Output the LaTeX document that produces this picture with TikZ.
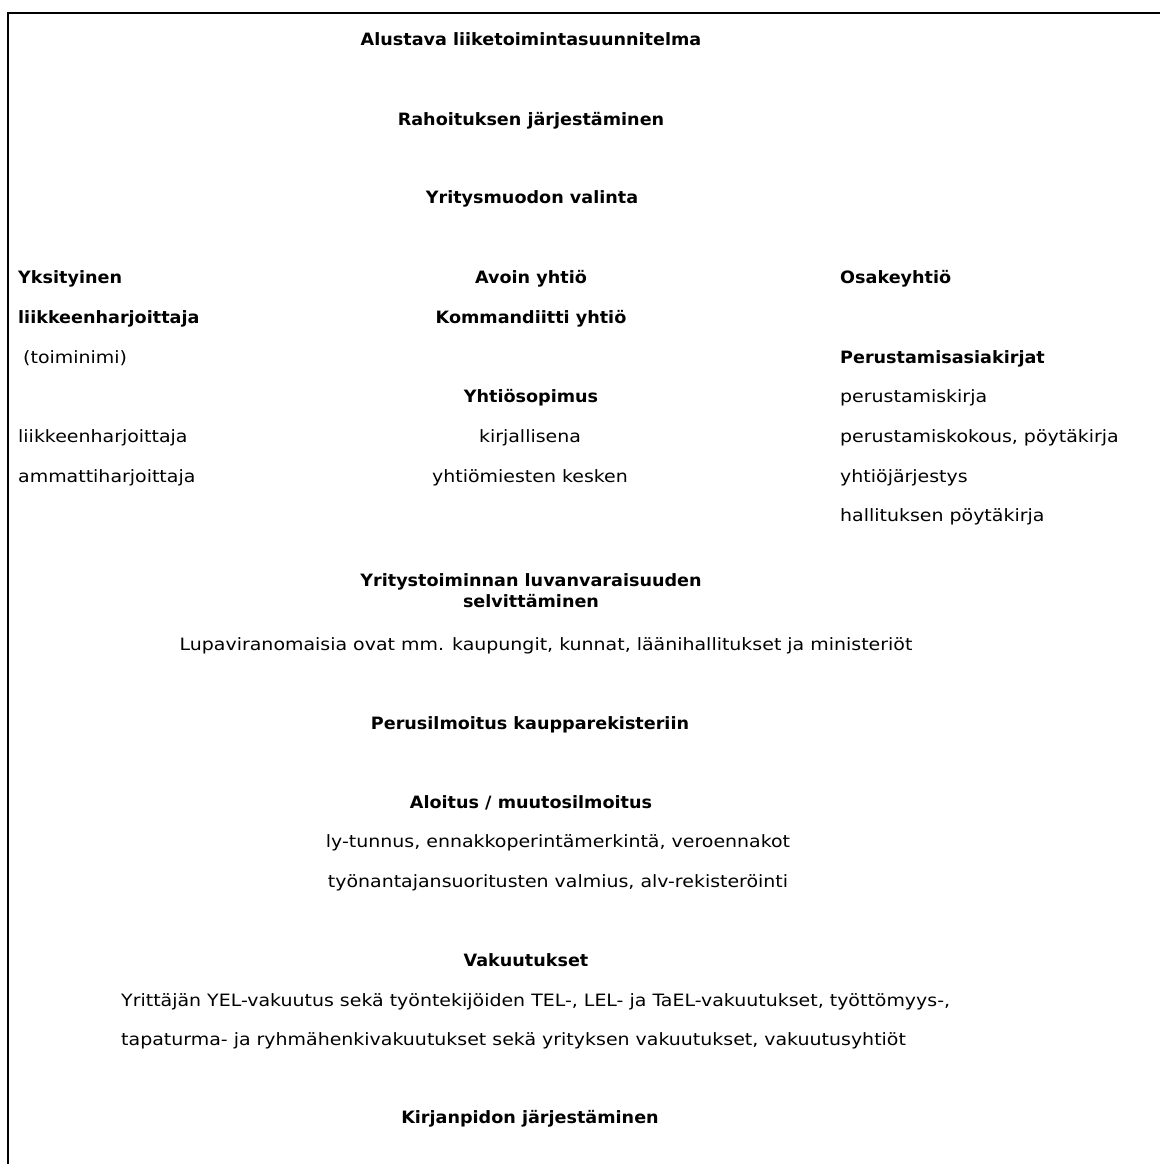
\documentclass[tikz,border=0pt]{standalone}
\usepackage{fontspec}
\setmainfont{DejaVu Sans}[FakeStretch=1.115]
\newfontfamily\headfont{DejaVu Sans}[FakeStretch=1.035]
\usetikzlibrary{positioning}
\newcommand{\fsz}{\fontsize{17}{21}\selectfont}
\tikzset{
  head/.style={font=\fsz\headfont\bfseries, inner sep=0pt, anchor=base},
  txt/.style={font=\fsz, inner sep=0pt, anchor=base},
  headl/.style={head, anchor=base west},
  txtl/.style={txt, anchor=base west},
}

\begin{document}
\begin{tikzpicture}[x=1pt, y=-1pt]
		\useasboundingbox (0,0) rectangle (1160,1164);
		\draw[line width=2pt] (8,1164) -- (8,13) -- (1160,13);
		
		\node[head] (plan) at (531,46) {Alustava liiketoimintasuunnitelma};
		\node[head] (rahoitus) at (531,125) {Rahoituksen järjestäminen};
		\node[head] (muoto) at (532,203) {Yritysmuodon valinta};
		
		% left column
		\node[headl] (tmi1) at (18,283) {Yksityinen};
		\node[headl] (tmi2) at (18,323) {liikkeenharjoittaja};
		\node[txtl] (tmi3) at (23,363) {(toiminimi)};
		\node[txtl] (tmi4) at (18,442) {liikkeenharjoittaja};
		\node[txtl] (tmi5) at (18,482) {ammattiharjoittaja};
		
		% middle column
		\node[head] (ay) at (531,283) {Avoin yhtiö};
		\node[head] (ky) at (531,323) {Kommandiitti yhtiö};
		\node[head] (sopimus) at (531,402) {Yhtiösopimus};
		\node[txt] (sop1) at (530,442) {kirjallisena};
		\node[txt] (sop2) at (530,482) {yhtiömiesten kesken};
		
		% right column
		\node[headl] (oy) at (840,283) {Osakeyhtiö};
		\node[headl] (asiak) at (840,363) {Perustamisasiakirjat};
		\node[txtl] (asiak1) at (840,402) {perustamiskirja};
		\node[txtl] (asiak2) at (840,442) {perustamiskokous, pöytäkirja};
		\node[txtl] (asiak3) at (840,482) {yhtiöjärjestys};
		\node[txtl] (asiak4) at (840,521) {hallituksen pöytäkirja};
		
		\node[head] (lupa) at (531,586) {Yritystoiminnan luvanvaraisuuden};
		\node[head] (lupa2) at ([yshift=-21pt]lupa.base) {selvittäminen};
		\node[txt] (lupat) at (546,650) {Lupaviranomaisia ovat mm. kaupungit, kunnat, läänihallitukset ja ministeriöt};
		
		\node[head] (kaupparek) at (530,729) {Perusilmoitus kaupparekisteriin};
		
		\node[head] (aloitus) at (531,808) {Aloitus / muutosilmoitus};
		\node[txt] (aloitus1) at (558,847) {ly-tunnus, ennakkoperintämerkintä, veroennakot};
		\node[txt] (aloitus2) at (558,887) {työnantajansuoritusten valmius, alv-rekisteröinti};
		
		\node[head] (vak) at (526,966) {Vakuutukset};
		\node[txtl] (vak1) at (121,1006) {Yrittäjän YEL-vakuutus sekä työntekijöiden TEL-, LEL- ja TaEL-vakuutukset, työttömyys-,};
		\node[txtl] (vak2) at (121,1045) {tapaturma- ja ryhmähenkivakuutukset sekä yrityksen vakuutukset, vakuutusyhtiöt};
		
		\node[head] (kirjanp) at (530,1123) {Kirjanpidon järjestäminen};
	\end{tikzpicture}
\end{document}
